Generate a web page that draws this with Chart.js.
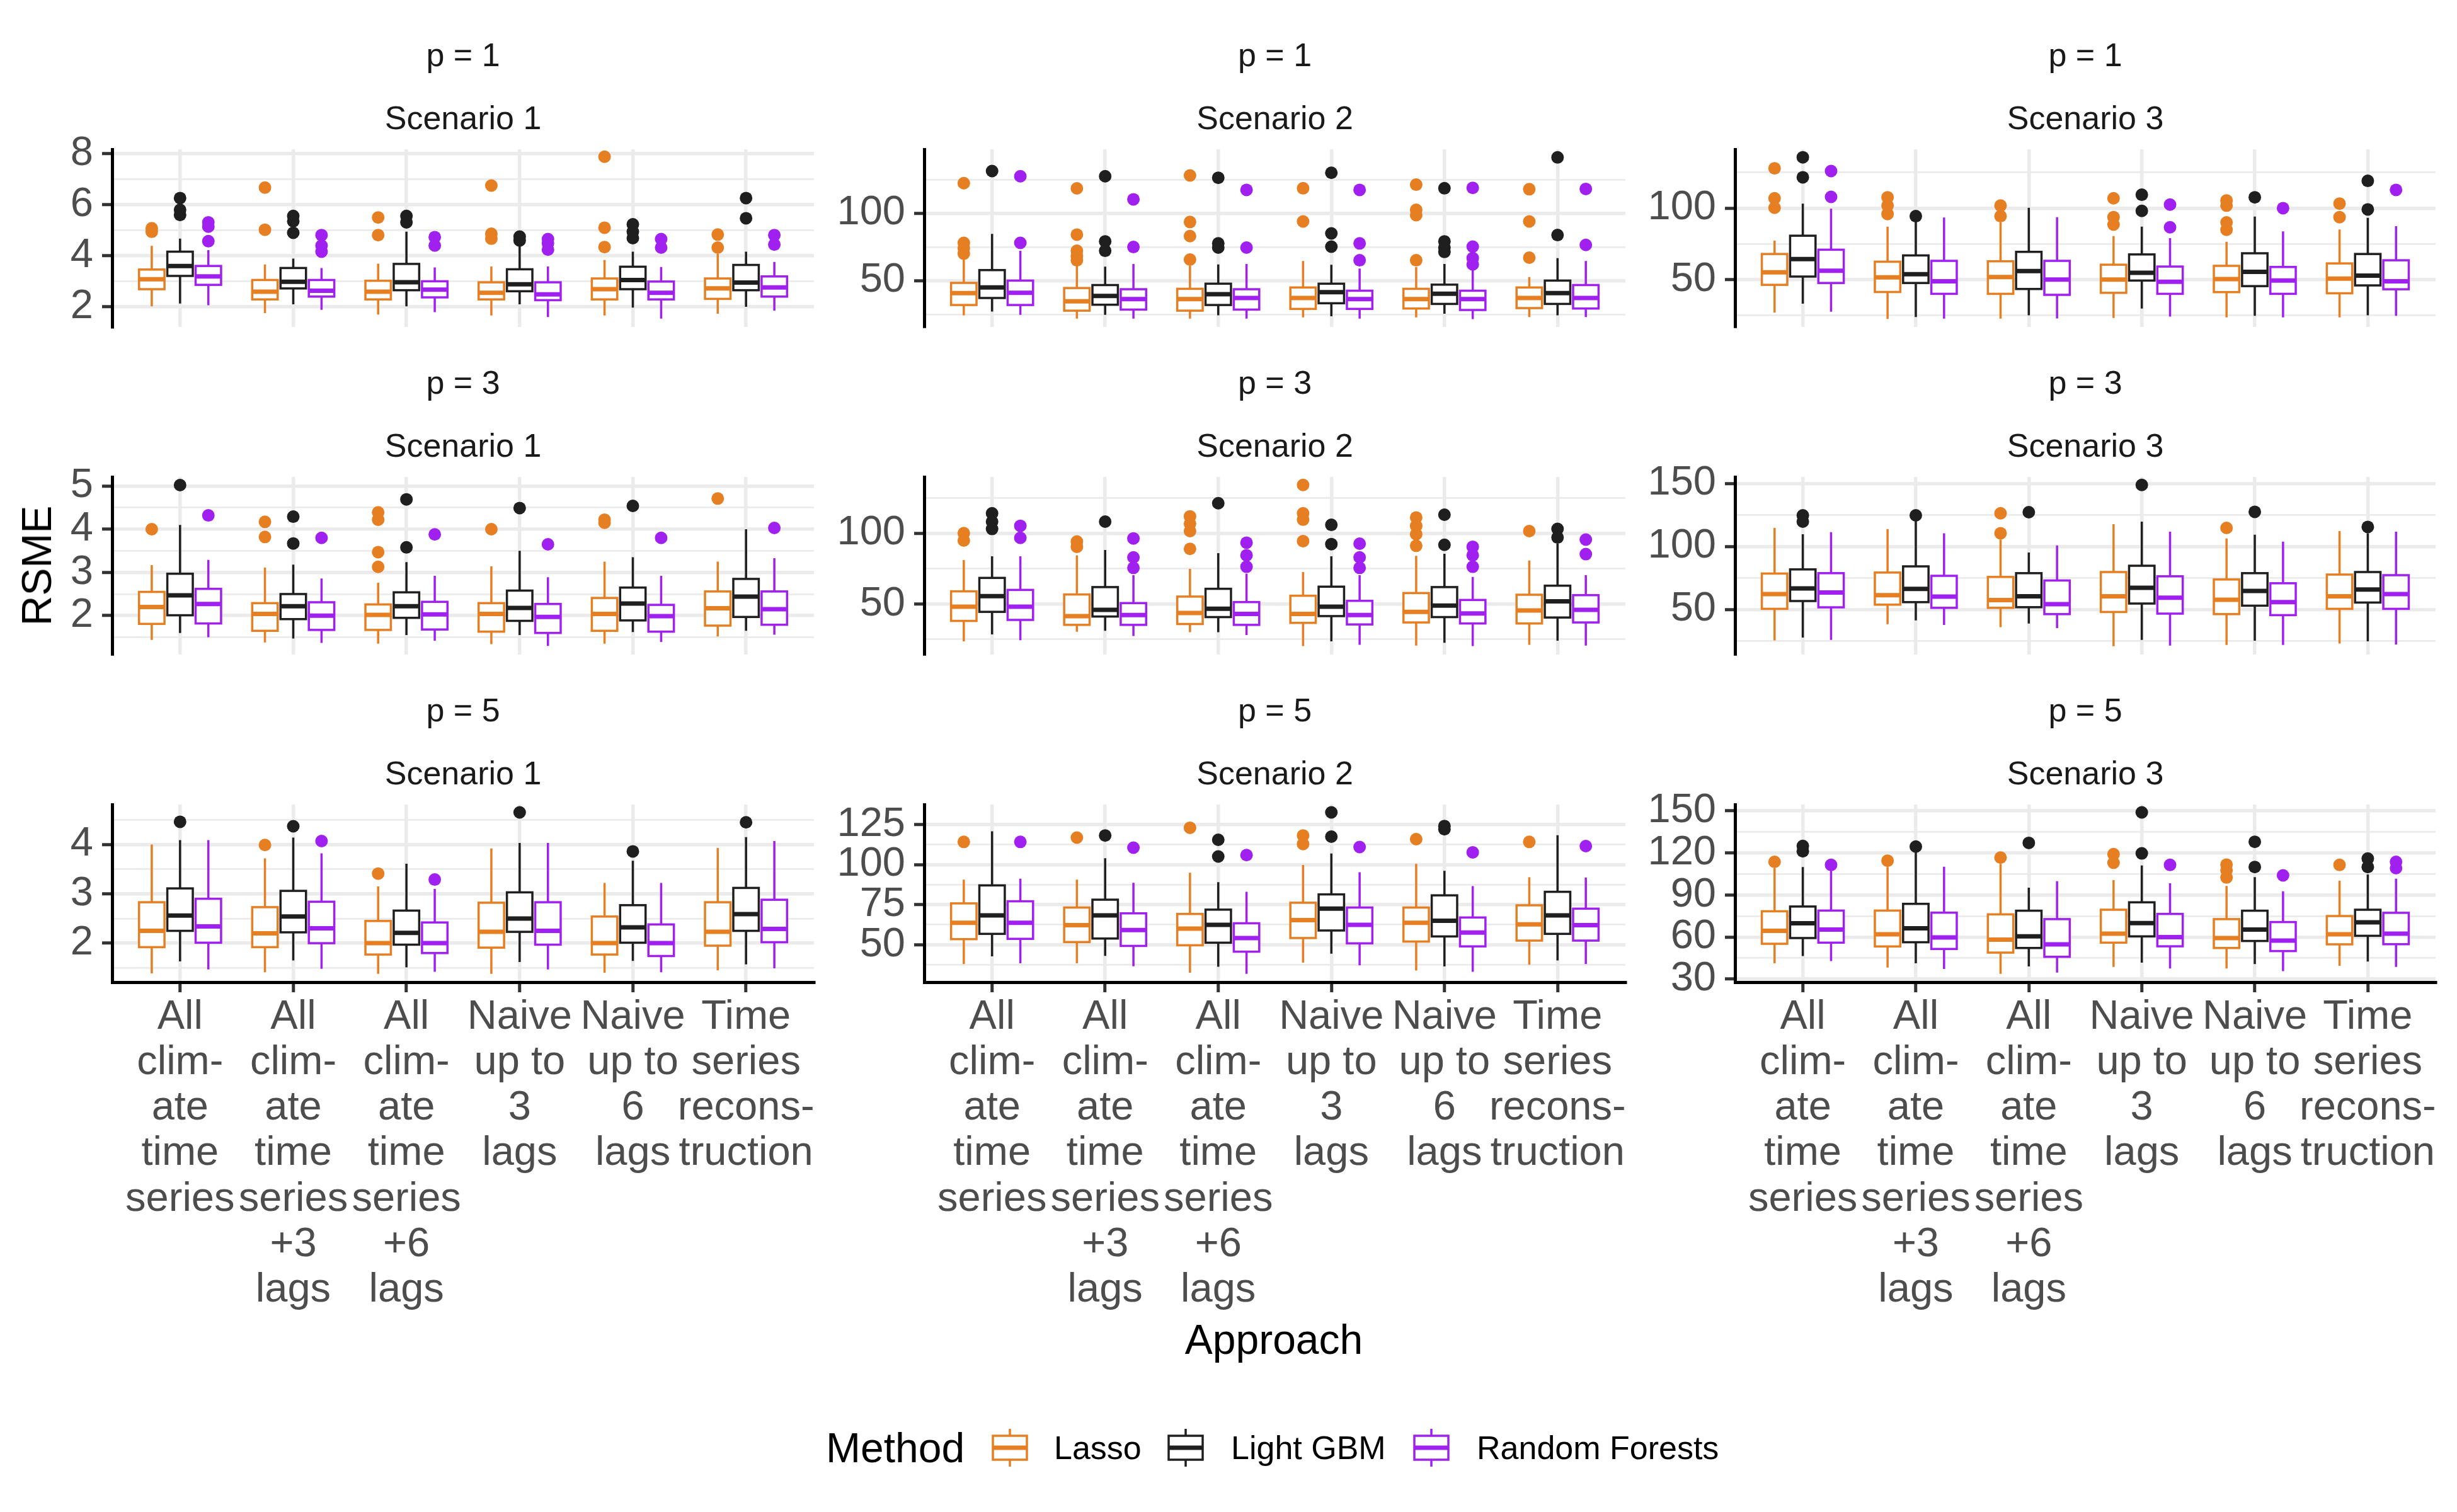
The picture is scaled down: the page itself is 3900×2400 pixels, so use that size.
<!DOCTYPE html>
<html><head><meta charset="utf-8">
<script src="https://cdn.jsdelivr.net/npm/chart.js@4.4.0/dist/chart.umd.min.js"></script>
<style>
html,body{margin:0;padding:0;background:#fff;}
#root{position:relative;width:3900px;height:2400px;background:#fff;font-family:"Liberation Sans",Arial,sans-serif;overflow:hidden;}
.lbl{position:absolute;white-space:nowrap;line-height:1;}
canvas{position:absolute;}
</style></head><body><div id="root"></div>
<script>
// ---------------- DATA ----------------
const methods = ['Lasso', 'Light GBM', 'Random Forests'];
const approaches = [
  ['All','clim-','ate','time','series'],
  ['All','clim-','ate','time','series','+3','lags'],
  ['All','clim-','ate','time','series','+6','lags'],
  ['Naive','up to','3','lags'],
  ['Naive','up to','6','lags'],
  ['Time','series','recons-','truction']
];
const pLabels = ['p = 1', 'p = 3', 'p = 5'];
const scenarioLabels = ['Scenario 1', 'Scenario 2', 'Scenario 3'];

// y-axis range and tick labels per panel (row-major: p=1 S1..S3, p=3 ..., p=5 ...)
const yLimits = [[1.21,8.17],[15.6,147.4],[16.8,141.2],[1.1,5.21],[14.2,139.8],[14.2,155.2],[1.21,4.81],[26.7,137.4],[27.8,154.6]];
const yMajor = [[2,4,6,8],[50,100],[50,100],[2,3,4,5],[50,100],[50,100,150],[2,3,4],[50,75,100,125],[30,60,90,120,150]];
const yMinor = [[3,5,7],[25,75,125],[25,75,125],[1.5,2.5,3.5,4.5],[25,75,125],[25,75,125],[1.5,2.5,3.5,4.5],[37.5,62.5,87.5,112.5],[45,75,105,135]];

// box stats per approach: [lower whisker, Q1, median, Q3, upper whisker]
// p = 1, Scenario 1
const p1s1_lasso = [[2.02,2.69,3.08,3.46,4.39],[1.75,2.29,2.59,3.05,3.66],[1.70,2.29,2.59,3.02,3.69],[1.66,2.29,2.55,2.96,3.58],[1.66,2.29,2.69,3.11,3.83],[1.73,2.31,2.72,3.11,4.07]];
const p1s1_gbm   = [[2.13,3.21,3.60,4.16,4.67],[2.10,2.72,2.98,3.52,3.89],[2.02,2.65,2.96,3.68,4.94],[2.10,2.61,2.88,3.47,4.45],[1.97,2.69,3.05,3.57,4.16],[2.00,2.65,2.95,3.64,4.16]];
const p1s1_rf    = [[2.06,2.86,3.19,3.60,4.22],[1.88,2.40,2.63,3.05,3.52],[1.79,2.37,2.67,3.00,3.54],[1.60,2.26,2.49,2.96,3.58],[1.54,2.29,2.55,2.99,3.56],[1.85,2.40,2.76,3.19,3.76]];
const p1s1_lasso_out = [[5.08,4.94],[6.67,5.02],[5.50,4.81],[6.75,4.86,4.67],[7.88,5.10,4.34],[4.83,4.32]];
const p1s1_gbm_out   = [[6.26,5.80,5.60],[5.56,5.35,4.90],[5.56,5.31],[4.75,4.60],[5.23,4.94,4.69],[6.26,5.47]];
const p1s1_rf_out    = [[5.31,5.14,4.57],[4.81,4.40,4.16],[4.73,4.40],[4.65,4.49,4.24],[4.65,4.32],[4.81,4.44]];
// p = 1, Scenario 2
const p1s2_lasso = [[24.3,31.9,40.7,48.3,65.6],[21.8,27.7,34.7,44.5,62.8],[21.8,27.7,36.3,43.9,60.9],[22.7,29.0,37.1,44.9,64.6],[22.7,29.3,36.3,43.9,60.0],[23.0,29.6,37.1,44.9,52.6]];
const p1s2_gbm   = [[27.0,37.1,44.9,57.8,84.6],[24.6,32.1,38.6,46.7,60.4],[24.3,31.9,39.9,47.7,62.0],[23.5,33.2,41.4,47.7,61.7],[25.4,32.7,40.2,47.0,62.3],[24.3,32.7,40.7,50.0,66.7]];
const p1s2_rf    = [[24.6,31.9,41.0,50.0,72.1],[21.8,28.5,36.3,43.6,62.3],[21.8,28.5,37.1,43.6,62.3],[21.8,29.0,36.3,42.5,58.9],[21.5,28.2,36.3,42.5,58.4],[23.0,29.3,37.1,46.7,64.6]];
const p1s2_lasso_out = [[122.3,78,74,70],[118.4,84.1,72.1,68.2,65.1],[128,93.5,83,65.6],[118.5,93.9],[121.2,102.5,98.6,65.1],[117.8,93.9,67]];
const p1s2_gbm_out   = [[131.3],[127.4,79.1,72.1],[126.3,77.6,74.5],[130,85,75.2],[118.5,79.1,74.5,71.3],[141.4,83.8]];
const p1s2_rf_out    = [[127.4,78],[110.3,74.9],[117.3,74.5],[117.3,77.6,65.1],[118.8,75.2,66.7,62],[118,76.5]];
// p = 1, Scenario 3
const p1s3_lasso = [[26.8,46.3,55.1,67.9,77.2],[22.4,41.3,51.5,62.5,87.1],[22.6,40.0,51.8,62.8,90.0],[23.1,40.7,50.0,60.4,80.4],[23.5,41.2,50.3,59.6,76.5],[23.5,40.4,50.7,61.3,85.1]];
const p1s3_gbm   = [[33.1,52.1,64.3,80.7,103.2],[23.8,47.6,53.7,66.9,91.0],[25.0,43.4,55.9,69.4,100.3],[29.7,49.3,54.7,67.6,87.1],[24.6,45.4,55.4,68.4,94.1],[25.0,45.9,52.8,67.9,93.2]];
const p1s3_rf    = [[27.5,47.6,56.2,70.9,99.6],[22.6,40.0,48.8,63.1,93.4],[22.8,39.3,50.0,63.1,93.7],[24.1,40.0,48.5,59.1,79.0],[23.5,40.0,49.3,58.8,83.7],[24.6,43.2,48.8,63.5,87.4]];
const p1s3_lasso_out = [[127.9,106.9,100.3],[107.6,101.8,95.9],[101.8,94.4],[106.9,93.7,88.5],[105.4,101.8,90.0,84.9],[103.2,93.7]];
const p1s3_gbm_out   = [[135.6,121.6],[94.4],[],[109.4,98.1],[107.6],[119.1,99.1]];
const p1s3_rf_out    = [[126,107.9],[],[],[102.5,86.6],[100],[112.8]];
// p = 3, Scenario 1
const p3s1_lasso = [[1.44,1.81,2.20,2.55,3.17],[1.38,1.65,2.04,2.29,3.11],[1.35,1.67,2.02,2.26,2.76],[1.34,1.63,2.04,2.29,3.14],[1.35,1.65,2.04,2.41,3.25],[1.52,1.77,2.17,2.56,3.25]];
const p3s1_gbm   = [[1.60,2.01,2.47,2.97,4.10],[1.47,1.92,2.22,2.50,3.18],[1.55,1.95,2.22,2.54,3.24],[1.55,1.88,2.18,2.58,3.50],[1.62,1.89,2.28,2.65,3.35],[1.65,1.97,2.44,2.85,4.00]];
const p3s1_rf    = [[1.50,1.82,2.27,2.62,3.29],[1.37,1.67,2.00,2.31,2.86],[1.42,1.68,2.03,2.32,2.92],[1.30,1.60,1.97,2.27,2.89],[1.39,1.63,1.99,2.25,2.92],[1.56,1.79,2.15,2.56,3.33]];
const p3s1_lasso_out = [[4.0],[4.17,3.82],[4.39,4.22,3.47,3.13],[4.0],[4.22,4.15],[4.71]];
const p3s1_gbm_out   = [[5.02],[4.29,3.67],[4.69,3.58],[4.49],[4.54],[]];
const p3s1_rf_out    = [[4.32],[3.80],[3.88],[3.65],[3.80],[4.03]];
// p = 3, Scenario 2
const p3s2_lasso = [[23.6,38.0,48.1,58.9,81.0],[30.3,35.2,41.4,56.7,84.4],[30.0,35.8,43.6,55.2,74.8],[20.2,36.6,42.9,55.8,72.6],[20.6,36.9,44.4,57.7,84.0],[21.1,36.2,45.4,56.5,80.7]];
const p3s2_gbm   = [[28.5,44.4,55.5,68.4,83.7],[31.0,41.1,45.8,61.9,88.1],[30.0,40.7,46.6,60.7,85.9],[23.6,41.4,48.1,62.2,83.7],[22.6,40.7,48.8,61.9,85.5],[24.0,40.4,51.8,62.9,92.6]];
const p3s2_rf    = [[24.3,38.7,48.1,59.9,83.7],[27.3,35.2,42.1,50.6,70.3],[28.0,35.2,42.9,51.3,71.4],[21.1,35.5,42.1,52.2,70.3],[20.2,36.2,43.3,52.8,69.1],[20.6,36.9,45.8,56.2,70.3]];
const p3s2_lasso_out = [[100,94.8],[94.1,90.4],[111.9,106.7,101.5,88.9],[134.1,114.1,109.6,94.4],[111.1,105.2,99.3,91.1],[101.5]];
const p3s2_gbm_out   = [[114.1,108.2,103],[108.2],[121.2],[105.9,92.3],[113.1,91.8],[103,97]];
const p3s2_rf_out    = [[105.2,96.7],[96.3,82.9,75.5],[93.3,84.4,76.3],[92.6,82.9,75.5],[90.4,84.4,76.3],[95.5,85.2]];
// p = 3, Scenario 3
const p3s3_lasso = [[25.5,50.5,62.2,78.5,114.7],[38.3,53.8,61.3,79.3,113.8],[36.0,51.3,57.5,75.8,105.5],[20.8,48.0,60.5,79.7,117.7],[21.8,46.3,57.7,73.8,106.3],[23.0,50.5,60.5,77.7,112.2]];
const p3s3_gbm   = [[27.7,56.7,66.7,81.8,109.7],[41.3,55.8,66.3,84.2,120.5],[38.8,51.8,60.5,78.8,95.2],[25.8,54.7,67.2,84.7,119.7],[25.2,53.0,64.7,78.8,109.3],[24.7,55.5,65.8,79.7,110.5]];
const p3s3_rf    = [[25.8,51.7,63.5,78.8,111.3],[37.7,51.3,60.2,76.7,110.5],[35.2,46.3,54.2,73.0,100.8],[21.3,46.7,59.3,76.3,111.7],[21.8,45.5,55.8,70.8,103.8],[22.2,50.5,62.2,77.2,111.7]];
const p3s3_lasso_out = [[],[],[126.3,110.5],[],[114.7],[]];
const p3s3_gbm_out   = [[124.7,119.7],[124.7],[127.2],[148.8],[127.5],[115.5]];
const p3s3_rf_out    = [[],[],[],[],[],[]];
// p = 5, Scenario 1
const p5s1_lasso = [[1.39,1.92,2.25,2.83,4.00],[1.41,1.92,2.20,2.73,3.72],[1.38,1.77,2.00,2.45,3.15],[1.38,1.91,2.23,2.82,3.92],[1.40,1.77,2.00,2.54,3.22],[1.45,1.95,2.23,2.83,3.93]];
const p5s1_gbm   = [[1.63,2.25,2.56,3.11,4.09],[1.65,2.22,2.54,3.06,4.14],[1.51,1.97,2.21,2.66,3.61],[1.62,2.23,2.50,3.03,4.03],[1.64,2.01,2.32,2.77,3.67],[1.57,2.25,2.59,3.12,4.15]];
const p5s1_rf    = [[1.47,2.01,2.34,2.90,4.09],[1.48,2.00,2.30,2.84,3.82],[1.42,1.80,2.00,2.42,3.10],[1.47,1.97,2.25,2.83,4.03],[1.41,1.74,2.00,2.38,3.22],[1.49,2.02,2.29,2.88,4.07]];
const p5s1_lasso_out = [[],[3.99],[3.41],[],[],[]];
const p5s1_gbm_out   = [[4.46],[4.37],[],[4.65],[3.86],[4.45]];
const p5s1_rf_out    = [[],[4.07],[3.29],[],[],[]];
// p = 5, Scenario 2
const p5s2_lasso = [[38.0,53.5,63.7,75.8,90.6],[38.5,51.7,62.2,73.2,90.6],[32.6,49.7,60.1,69.2,94.9],[38.9,54.2,65.4,76.2,99.7],[34.0,52.0,63.7,73.2,100.4],[37.6,52.6,62.7,74.6,92.1]];
const p5s2_gbm   = [[42.8,56.8,68.3,87.0,120.7],[43.1,53.9,68.3,78.1,103.9],[36.3,51.3,62.4,71.9,89.0],[44.5,58.9,72.5,81.4,106.9],[36.5,55.2,65.0,80.8,96.1],[40.2,56.8,68.3,83.0,118.3]];
const p5s2_rf    = [[38.5,53.7,63.7,77.1,91.2],[36.6,49.3,59.2,69.6,88.6],[31.9,45.7,54.2,63.4,83.0],[37.2,50.9,62.4,73.2,95.2],[33.2,49.0,57.6,67.0,86.6],[38.0,52.6,62.2,72.5,91.9]];
const p5s2_lasso_out = [[114.1],[116.8],[122.9],[118.1,112.8],[115.8],[114.1]];
const p5s2_gbm_out   = [[],[118.1],[115.4,105.0],[132.5,117.4],[124,122],[]];
const p5s2_rf_out    = [[114.1],[110.5],[105.9],[110.9],[107.6],[111.5]];
// p = 5, Scenario 3
const p5s3_lasso = [[41.3,55.2,64.5,78.4,109.2],[38.3,53.3,62.0,78.9,110.0],[33.8,48.9,58.2,76.2,112.2],[38.7,56.0,62.4,79.5,100.6],[37.6,52.2,59.3,72.8,96.5],[39.5,54.8,62.0,75.0,100.2]];
const p5s3_gbm   = [[46.5,59.3,69.8,81.8,110.0],[41.3,56.3,66.2,83.7,122.0],[39.0,52.2,60.5,78.8,95.2],[41.7,60.5,69.9,84.8,111.1],[40.7,57.2,65.3,78.8,102.8],[42.5,60.9,70.5,79.5,104.7]];
const p5s3_rf    = [[42.9,56.0,65.3,78.9,107.3],[37.2,51.5,59.7,77.4,110.2],[34.7,45.9,54.8,72.8,99.9],[37.6,53.4,60.0,76.5,98.4],[35.7,50.0,57.5,70.7,92.7],[38.7,54.9,62.4,77.3,101.7]];
const p5s3_lasso_out = [[113.7],[114.5],[116.7],[119.2,113.0],[111.7,107.7,102.5],[111.5]];
const p5s3_gbm_out   = [[125.0,121.2],[124.6],[127.2],[149.0,119.7],[128.0,110.0],[116.0,110.0]];
const p5s3_rf_out    = [[111.5],[],[],[111.5],[104.0],[113.7,109.2]];

const panelStats = [
  [p1s1_lasso,p1s1_gbm,p1s1_rf],[p1s2_lasso,p1s2_gbm,p1s2_rf],[p1s3_lasso,p1s3_gbm,p1s3_rf],
  [p3s1_lasso,p3s1_gbm,p3s1_rf],[p3s2_lasso,p3s2_gbm,p3s2_rf],[p3s3_lasso,p3s3_gbm,p3s3_rf],
  [p5s1_lasso,p5s1_gbm,p5s1_rf],[p5s2_lasso,p5s2_gbm,p5s2_rf],[p5s3_lasso,p5s3_gbm,p5s3_rf]
];
const panelOut = [
  [p1s1_lasso_out,p1s1_gbm_out,p1s1_rf_out],[p1s2_lasso_out,p1s2_gbm_out,p1s2_rf_out],[p1s3_lasso_out,p1s3_gbm_out,p1s3_rf_out],
  [p3s1_lasso_out,p3s1_gbm_out,p3s1_rf_out],[p3s2_lasso_out,p3s2_gbm_out,p3s2_rf_out],[p3s3_lasso_out,p3s3_gbm_out,p3s3_rf_out],
  [p5s1_lasso_out,p5s1_gbm_out,p5s1_rf_out],[p5s2_lasso_out,p5s2_gbm_out,p5s2_rf_out],[p5s3_lasso_out,p5s3_gbm_out,p5s3_rf_out]
];

// ---------------- STYLE / LAYOUT ----------------
const FONT = '"Liberation Sans", Arial, sans-serif';
const COLORS = ['#E67E22', '#1F1F1F', '#A020F0'];
const OFFS = [-0.25, 0, 0.25];
const BOX_W = 0.225;
const ROW_TOP = [237, 757, 1277], ROW_BOT = [519, 1039, 1559];
const COL_L = [178, 1467, 2754], COL_R = [1292, 2580, 3866];
const YW = 180, PAD_T = 45, PAD_R = 12;
const root = document.getElementById('root');

function addText(txt, x, y, size, color, extra) {
  const d = document.createElement('div');
  d.className = 'lbl';
  d.textContent = txt;
  d.style.left = x + 'px'; d.style.top = y + 'px';
  d.style.fontSize = size + 'px'; d.style.color = color;
  d.style.transform = extra || 'translate(-50%,-50%)';
  root.appendChild(d);
  return d;
}

function boxPlugin(i) {
  return {
    id: 'boxes' + i,
    beforeDatasetsDraw(chart) {
      const ctx = chart.ctx, xs = chart.scales.x, ys = chart.scales.y;
      ctx.save();
      ctx.lineCap = 'butt';
      panelStats[i].forEach((rows, mi) => {
        rows.forEach((s, ci) => {
          const c = ci + 1 + OFFS[mi];
          const xl = xs.getPixelForValue(c - BOX_W / 2), xr = xs.getPixelForValue(c + BOX_W / 2), xc = xs.getPixelForValue(c);
          const lo = ys.getPixelForValue(s[0]), q1 = ys.getPixelForValue(s[1]), md = ys.getPixelForValue(s[2]),
                q3 = ys.getPixelForValue(s[3]), hi = ys.getPixelForValue(s[4]);
          ctx.strokeStyle = COLORS[mi];
          ctx.lineWidth = 3.5;
          ctx.beginPath();
          ctx.moveTo(xc, q3); ctx.lineTo(xc, hi);
          ctx.moveTo(xc, q1); ctx.lineTo(xc, lo);
          ctx.stroke();
          ctx.fillStyle = '#FFFFFF';
          ctx.fillRect(xl, q3, xr - xl, q1 - q3);
          ctx.strokeRect(xl, q3, xr - xl, q1 - q3);
          ctx.lineWidth = 7;
          ctx.beginPath();
          ctx.moveTo(xl, md); ctx.lineTo(xr, md);
          ctx.stroke();
        });
      });
      ctx.restore();
    }
  };
}

for (let i = 0; i < 9; i++) {
  const r = Math.floor(i / 3), c = i % 3;
  const bottom = r === 2;
  const XH = bottom ? 540 : 40;
  const left = COL_L[c] - YW, top = ROW_TOP[r] - PAD_T;
  const w = COL_R[c] - left + PAD_R, h = ROW_BOT[r] - top + XH;
  const cv = document.createElement('canvas');
  cv.width = w; cv.height = h;
  cv.style.left = left + 'px'; cv.style.top = top + 'px';
  cv.style.width = w + 'px'; cv.style.height = h + 'px';
  root.appendChild(cv);

  // strip labels
  const cx = (COL_L[c] + COL_R[c]) / 2;
  addText(pLabels[r], cx, ROW_TOP[r] - 150, 52, '#1A1A1A');
  addText(scenarioLabels[c], cx, ROW_TOP[r] - 50, 52, '#1A1A1A');

  const majors = yMajor[i];
  const isMajor = ctx => ctx.tick && majors.includes(ctx.tick.value);
  new Chart(cv, {
    type: 'scatter',
    data: {
      datasets: methods.map((m, mi) => ({
        label: m,
        data: panelOut[i][mi].flatMap((arr, ci) => arr.map(v => ({ x: ci + 1 + OFFS[mi], y: v }))),
        pointRadius: 10, pointHoverRadius: 10,
        backgroundColor: COLORS[mi], borderColor: COLORS[mi], borderWidth: 0
      }))
    },
    options: {
      responsive: false, animation: false, devicePixelRatio: 1, events: [],
      layout: { padding: { top: PAD_T, right: PAD_R, left: 0, bottom: 0 } },
      plugins: { legend: { display: false }, tooltip: { enabled: false }, title: { display: false } },
      scales: {
        x: {
          type: 'linear', min: 0.4, max: 6.6, bounds: 'data',
          afterBuildTicks: s => { s.ticks = [1, 2, 3, 4, 5, 6].map(v => ({ value: v })); },
          afterFit: s => { s.height = XH; s.paddingLeft = 0; s.paddingRight = 0; },
          grid: { color: '#EBEBEB', lineWidth: 5.5, drawTicks: bottom, tickLength: 16, tickColor: '#333333', tickWidth: 5 },
          border: { display: bottom, color: '#000000', width: 5 },
          ticks: {
            display: bottom, autoSkip: false, maxRotation: 0, minRotation: 0, padding: 4,
            color: '#4D4D4D', font: { family: FONT, size: 65, lineHeight: 1.11 },
            callback: v => approaches[v - 1]
          }
        },
        y: {
          type: 'linear', min: yLimits[i][0], max: yLimits[i][1], bounds: 'data',
          afterBuildTicks: s => { s.ticks = [...yMajor[i], ...yMinor[i]].sort((a, b) => a - b).map(v => ({ value: v })); },
          afterFit: s => { s.width = YW; s.paddingTop = 0; s.paddingBottom = 0; },
          grid: {
            color: '#EBEBEB',
            lineWidth: ctx => isMajor(ctx) ? 5.5 : 2.75,
            drawTicks: true, tickLength: 16,
            tickColor: ctx => isMajor(ctx) ? '#333333' : 'rgba(0,0,0,0)',
            tickWidth: 5
          },
          border: { display: true, color: '#000000', width: 5 },
          ticks: {
            autoSkip: false, padding: 14, color: '#4D4D4D', font: { family: FONT, size: 65 },
            callback: v => majors.includes(v) ? String(v) : ''
          }
        }
      }
    },
    plugins: [boxPlugin(i)]
  });
}

// axis titles
addText('RSME', 58, 898, 66, '#000000', 'translate(-50%,-50%) rotate(-90deg)');
addText('Approach', 2022, 2126, 66, '#000000');

// legend
addText('Method', 1311, 2298, 66, '#000000', 'translate(0,-50%)');
const keyX = [1574, 1853, 2243], labX = [1673, 1954, 2344];
methods.forEach((m, mi) => {
  const col = COLORS[mi];
  const svg = `<svg xmlns="http://www.w3.org/2000/svg" width="58" height="60" viewBox="0 0 58 60">
    <line x1="29" y1="0" x2="29" y2="11" stroke="${col}" stroke-width="3.5"/>
    <line x1="29" y1="49" x2="29" y2="60" stroke="${col}" stroke-width="3.5"/>
    <rect x="2" y="11" width="54" height="38" fill="#fff" stroke="${col}" stroke-width="3.5"/>
    <line x1="2" y1="30" x2="56" y2="30" stroke="${col}" stroke-width="7"/>
  </svg>`;
  const k = document.createElement('div');
  k.style.position = 'absolute'; k.style.left = keyX[mi] + 'px'; k.style.top = (2298 - 30) + 'px';
  k.style.width = '58px'; k.style.height = '60px'; k.style.lineHeight = '0';
  k.innerHTML = svg;
  root.appendChild(k);
  addText(m, labX[mi], 2298, 52, '#000000', 'translate(0,-50%)');
});
</script></body></html>
